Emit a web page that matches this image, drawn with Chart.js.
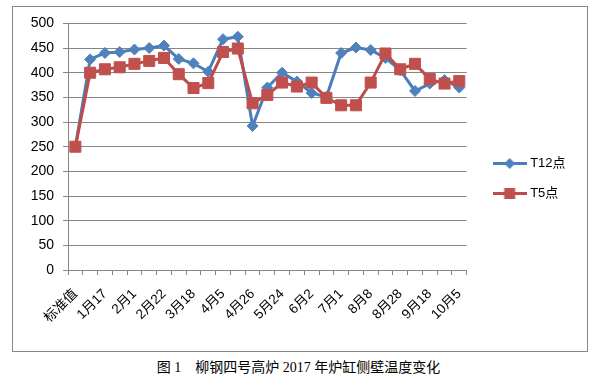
<!DOCTYPE html>
<html><head><meta charset="utf-8">
<script src="https://cdn.jsdelivr.net/npm/chart.js@4/dist/chart.umd.min.js"></script>
<style>
html,body{margin:0;padding:0;background:#fff;}
#frame{position:absolute;left:12px;top:6px;width:574px;height:344px;border:1px solid #868686;box-sizing:content-box;}
#wrap{position:absolute;left:12px;top:6px;width:575px;height:345px;}
#cap{position:absolute;left:0;top:360px;width:597px;text-align:center;font-size:14px;line-height:16px;font-family:"Liberation Serif","Noto Sans CJK SC",serif;color:#000;white-space:pre;}
</style></head><body>
<div id="frame"></div>
<div id="wrap"><canvas id="c" width="575" height="345" style="width:575px;height:345px"></canvas></div>
<div id="cap">图 1    柳钢四号高炉 2017 年炉缸侧壁温度变化</div>
<script>
const categories = ['标准值','', '1月17','', '2月1','', '2月22','', '3月18','', '4月5','', '4月26','', '5月24','', '6月2','', '7月1','', '8月8','', '8月28','', '9月18','', '10月5'];
const seriesNames = ['T12点', 'T5点'];
const t12Values = [250, 427, 440, 442, 447, 450, 455, 428, 419, 402, 468, 473, 292, 370, 400, 382, 359, 351, 440, 451, 446, 430, 405, 363, 378, 385, 370];
const t5Values  = [250, 400, 407, 411, 418, 424, 430, 397, 369, 379, 442, 449, 338, 355, 380, 372, 380, 349, 334, 334, 380, 439, 407, 418, 387, 378, 383];
const yTicks = [0, 50, 100, 150, 200, 250, 300, 350, 400, 450, 500];

const BLUE = '#4A7EBB', BLUE_M = '#4F81BD', RED = '#BE4B48', RED_M = '#C0504D', GRID = '#868686';
const FONT = "'Liberation Sans','Noto Sans CJK SC',sans-serif";

function makeIcon(color, mcolor, kind) {
  const cv = document.createElement('canvas');
  cv.width = 34; cv.height = 13;
  const g = cv.getContext('2d');
  g.strokeStyle = color; g.lineWidth = 3;
  g.beginPath(); g.moveTo(0, 6.5); g.lineTo(34, 6.5); g.stroke();
  g.fillStyle = mcolor;
  g.beginPath();
  if (kind === 'd') { g.moveTo(17, 1); g.lineTo(22.5, 6.5); g.lineTo(17, 12); g.lineTo(11.5, 6.5); g.closePath(); }
  else { g.rect(11.5, 1, 11, 11); }
  g.fill();
  return cv;
}
const icons = [makeIcon(BLUE, BLUE_M, 'd'), makeIcon(RED, RED_M, 's')];

const ctx = document.getElementById('c');
const defaultGen = Chart.defaults.plugins.legend.labels.generateLabels;
new Chart(ctx, {
  type: 'line',
  data: {
    labels: categories,
    datasets: [
      { label: seriesNames[0], data: t12Values, borderColor: BLUE, backgroundColor: BLUE_M, borderWidth: 3,
        pointStyle: 'rectRot', pointRadius: 5.5, pointHoverRadius: 5.5, pointBackgroundColor: BLUE_M, pointBorderColor: BLUE_M, pointBorderWidth: 1, tension: 0, order: 1 },
      { label: seriesNames[1], data: t5Values, borderColor: RED, backgroundColor: RED_M, borderWidth: 3,
        pointStyle: 'rect', pointRadius: 7.8, pointHoverRadius: 7.8, pointBackgroundColor: RED_M, pointBorderColor: RED_M, pointBorderWidth: 1, tension: 0, order: 0 }
    ]
  },
  options: {
    responsive: false,
    animation: false,
    layout: { padding: { top: 17, bottom: 17, left: 0, right: 15 } },
    plugins: {
      tooltip: { enabled: false },
      legend: {
        position: 'right',
        labels: {
          font: { size: 13, family: FONT }, color: '#000', padding: 17,
          usePointStyle: true, pointStyleWidth: 28,
          sort: (a, b) => a.datasetIndex - b.datasetIndex,
          generateLabels(chart) {
            const items = defaultGen(chart);
            items.forEach(it => { it.pointStyle = icons[it.datasetIndex]; });
            return items;
          }
        }
      }
    },
    scales: {
      x: {
        offset: true,
        grid: { display: true, drawOnChartArea: false, drawTicks: true, tickLength: 5, offset: true, color: GRID },
        border: { color: GRID },
        ticks: { autoSkip: false, maxRotation: 45, minRotation: 45, padding: 11, color: '#000', font: { size: 13.5, family: FONT } },
        afterFit(s) { s.height = 64; }
      },
      y: {
        min: 0, max: 500,
        afterBuildTicks(s) { s.ticks = yTicks.map(v => ({ value: v })); },
        grid: { color: GRID, tickLength: 5 },
        border: { color: GRID },
        ticks: { padding: 9, color: '#000', font: { size: 14, family: FONT } },
        afterFit(s) { s.width = 56; }
      },
      y2: {
        position: 'right', display: true,
        grid: { display: false, drawTicks: false },
        border: { display: false },
        ticks: { display: false },
        afterFit(s) { s.width = 12; }
      }
    }
  }
});
</script>
</body></html>
